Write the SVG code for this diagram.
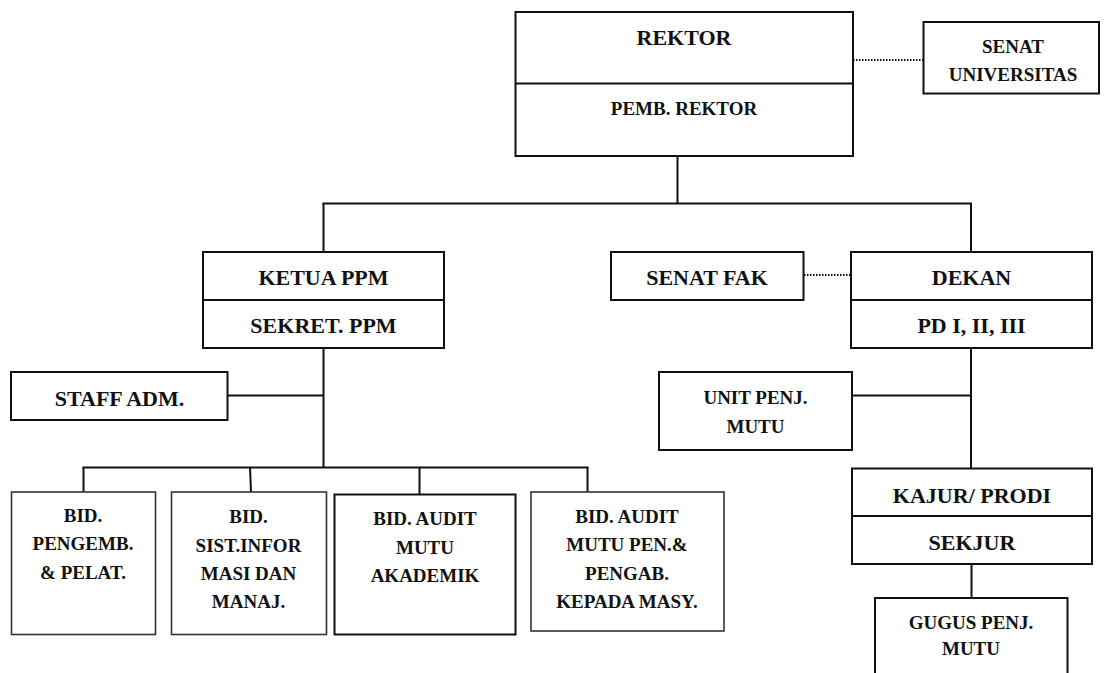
<svg xmlns="http://www.w3.org/2000/svg" width="1107" height="673" viewBox="0 0 1107 673">
<style>
.box{fill:#fff;stroke:#111;stroke-width:2}
.sbox{fill:#fff;stroke:#333;stroke-width:1.6}
.div{stroke:#111;stroke-width:2}
.ln{stroke:#111;stroke-width:2;fill:none}
.dot{stroke:#111;stroke-width:2;fill:none;stroke-dasharray:1.5 1.5}
text{font-family:"Liberation Serif","Times New Roman",serif;font-weight:bold;fill:#111;text-anchor:middle}
.t22{font-size:22px}
.t19{font-size:19px}
</style>
<rect width="1107" height="673" fill="#fff"/>
<g id="connectors">
<line class="ln" x1="677.5" y1="156" x2="677.5" y2="203.5"/>
<line class="ln" x1="322.5" y1="203.5" x2="972" y2="203.5"/>
<line class="ln" x1="323.5" y1="203.5" x2="323.5" y2="252"/>
<line class="ln" x1="971" y1="203.5" x2="971" y2="252"/>
<line class="dot" x1="853" y1="60" x2="923" y2="60"/>
<line class="dot" x1="804" y1="275" x2="851" y2="275"/>
<line class="ln" x1="323.5" y1="348" x2="323.5" y2="468"/>
<line class="ln" x1="227.5" y1="395.5" x2="323.5" y2="395.5"/>
<line class="ln" x1="82.5" y1="467.5" x2="588.5" y2="467.5"/>
<line class="ln" x1="83.5" y1="467.5" x2="83.5" y2="492"/>
<line class="ln" x1="250" y1="467.5" x2="251" y2="492"/>
<line class="ln" x1="419.5" y1="467.5" x2="419.5" y2="494"/>
<line class="ln" x1="587.5" y1="467.5" x2="587.5" y2="492"/>
<line class="ln" x1="971" y1="348" x2="971" y2="468.5"/>
<line class="ln" x1="852" y1="395.5" x2="971" y2="395.5"/>
<line class="ln" x1="971.5" y1="564" x2="971.5" y2="598"/>
</g>
<g id="rektor">
<rect class="box" x="515.5" y="12" width="337.5" height="144"/>
<line class="div" x1="515.5" y1="83.5" x2="853" y2="83.5"/>
<text class="t22" x="684" y="45">REKTOR</text>
<text class="t19" x="684" y="115">PEMB. REKTOR</text>
</g>
<g id="senat-universitas">
<rect class="box" x="923.5" y="22" width="175.5" height="71.5"/>
<text class="t19" x="1013" y="53">SENAT</text>
<text class="t19" x="1013" y="81">UNIVERSITAS</text>
</g>
<g id="ketua-ppm">
<rect class="box" x="203" y="252" width="241" height="96"/>
<line class="div" x1="203" y1="300" x2="444" y2="300"/>
<text class="t22" x="323.5" y="285">KETUA PPM</text>
<text class="t22" x="323.5" y="332.5">SEKRET. PPM</text>
</g>
<g id="staff-adm">
<rect class="box" x="11" y="372" width="216.5" height="48"/>
<text class="t22" x="119.5" y="405.5">STAFF ADM.</text>
</g>
<g id="senat-fak">
<rect class="box" x="611" y="252" width="192.5" height="48"/>
<text class="t22" x="707" y="285">SENAT FAK</text>
</g>
<g id="dekan">
<rect class="box" x="851" y="252" width="241" height="96"/>
<line class="div" x1="851" y1="300" x2="1092" y2="300"/>
<text class="t22" x="971.5" y="285">DEKAN</text>
<text class="t22" x="971.5" y="332.5">PD I, II, III</text>
</g>
<g id="unit-penj-mutu">
<rect class="box" x="659" y="372" width="193" height="78"/>
<text class="t19" x="755.5" y="403.5">UNIT PENJ.</text>
<text class="t19" x="755.5" y="432.5">MUTU</text>
</g>
<g id="bid-pengemb">
<rect class="sbox" x="11.5" y="492" width="144" height="142.5"/>
<text class="t19" x="83" y="521.5">BID.</text>
<text class="t19" x="83" y="550">PENGEMB.</text>
<text class="t19" x="83" y="579">&amp; PELAT.</text>
</g>
<g id="bid-sist-infor">
<rect class="sbox" x="171.5" y="492" width="155" height="142.5"/>
<text class="t19" x="248.5" y="523">BID.</text>
<text class="t19" x="248.5" y="552">SIST.INFOR</text>
<text class="t19" x="248.5" y="580">MASI DAN</text>
<text class="t19" x="248.5" y="607.5">MANAJ.</text>
</g>
<g id="bid-audit-akademik">
<rect class="box" x="334.5" y="494.5" width="181" height="140"/>
<text class="t19" x="425" y="525">BID. AUDIT</text>
<text class="t19" x="425" y="554">MUTU</text>
<text class="t19" x="425" y="581.5">AKADEMIK</text>
</g>
<g id="bid-audit-pengab">
<rect class="sbox" x="531" y="492" width="193" height="139"/>
<text class="t19" x="627" y="522.5">BID. AUDIT</text>
<text class="t19" x="627" y="551">MUTU PEN.&amp;</text>
<text class="t19" x="627" y="579.5">PENGAB.</text>
<text class="t19" x="627" y="607.5">KEPADA MASY.</text>
</g>
<g id="kajur-prodi">
<rect class="box" x="852" y="468.5" width="240" height="95.5"/>
<line class="div" x1="852" y1="516" x2="1092" y2="516"/>
<text class="t22" x="972" y="502.5">KAJUR/ PRODI</text>
<text class="t22" x="972" y="550">SEKJUR</text>
</g>
<g id="gugus-penj-mutu">
<rect class="box" x="875" y="598" width="192.5" height="90"/>
<text class="t19" x="971" y="628.5">GUGUS PENJ.</text>
<text class="t19" x="971" y="655">MUTU</text>
</g>
</svg>
